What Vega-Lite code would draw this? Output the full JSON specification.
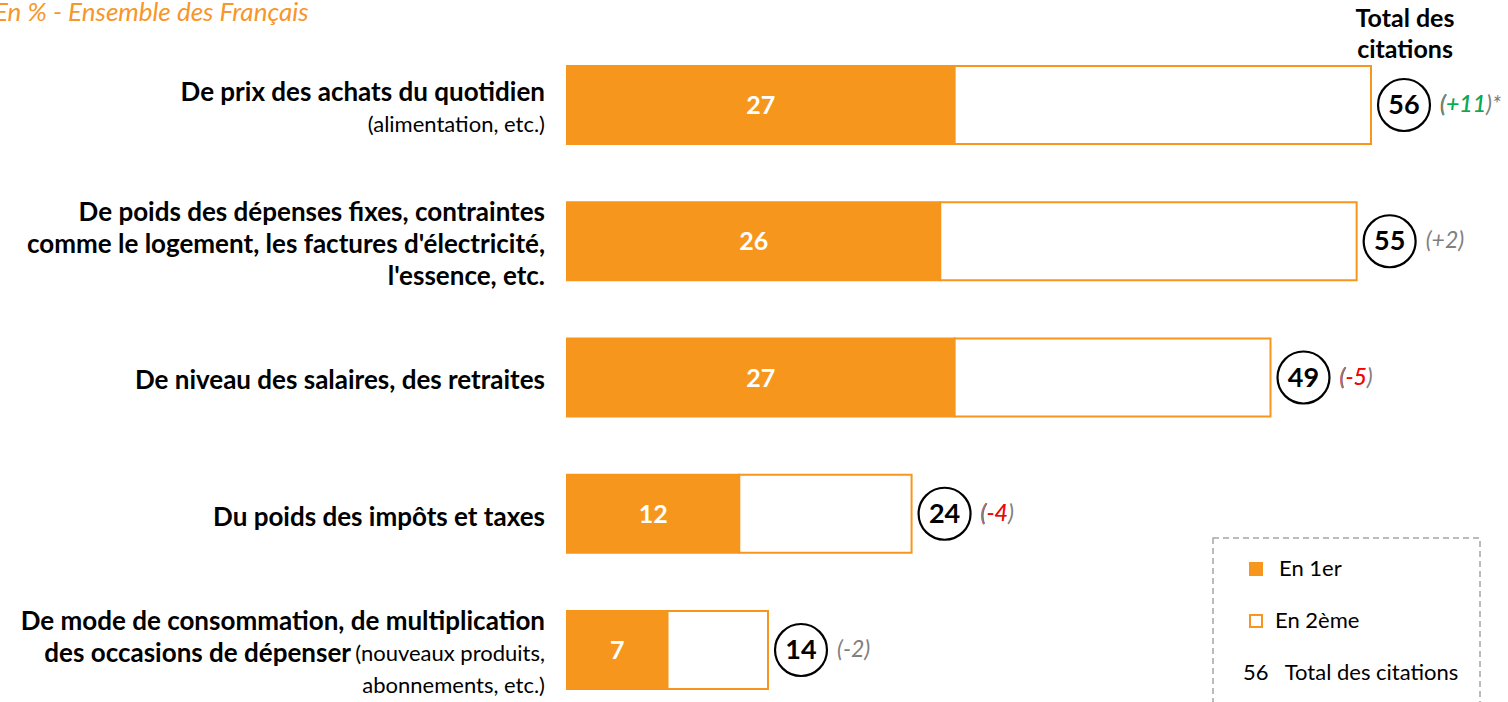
{
  "$schema": "https://vega.github.io/schema/vega-lite/v6.json",
  "width": 1508,
  "height": 672,
  "autosize": {"type": "none"},
  "padding": {"left": 0, "right": 0, "top": 30, "bottom": 0},
  "background": "white",
  "title": {
    "text": "En % - Ensemble des Français",
    "anchor": "start",
    "frame": "group",
    "dx": -6,
    "dy": 19,
    "offset": 0,
    "font": "Lato",
    "fontSize": 26,
    "fontStyle": "italic",
    "fontWeight": "normal",
    "color": "#F7962A"
  },
  "config": {
    "view": {"stroke": null},
    "font": "Lato",
    "legend": {
      "orient": "none",
      "legendX": 1213,
      "legendY": 508,
      "padding": 20,
      "strokeColor": "#A6A6A6",
      "strokeDash": [6, 4],
      "strokeWidth": 1.5,
      "symbolType": "square",
      "symbolSize": 144,
      "symbolStrokeWidth": 2,
      "symbolStrokeColor": "#F7961D",
      "symbolOffset": 12,
      "labelOffset": 12,
      "labelFont": "Lato",
      "labelFontSize": 22,
      "labelColor": "#000000",
      "labelLimit": 600,
      "rowPadding": 30
    }
  },
  "datasets": {
    "items": [
      {"id": "prix", "En 1er": 27, "En 2ème": 29, "total": 56, "delta": "(+11)*", "deltaPrefix": "(+11", "trend": "hausse"},
      {"id": "depenses", "En 1er": 26, "En 2ème": 29, "total": 55, "delta": "(+2)", "deltaPrefix": "(+2", "trend": "stable"},
      {"id": "salaires", "En 1er": 27, "En 2ème": 22, "total": 49, "delta": "(-5)", "deltaPrefix": "(-5", "trend": "baisse"},
      {"id": "impots", "En 1er": 12, "En 2ème": 12, "total": 24, "delta": "(-4)", "deltaPrefix": "(-4", "trend": "baisse"},
      {"id": "mode", "En 1er": 7, "En 2ème": 7, "total": 14, "delta": "(-2)", "deltaPrefix": "(-2", "trend": "stable"}
    ],
    "lignes": [
      {"id": "prix", "ligne": -0.5, "texte": "De prix des achats du quotidien", "style": "gras"},
      {"id": "prix", "ligne": 0.5, "texte": "(alimentation, etc.)", "style": "normal"},
      {"id": "depenses", "ligne": -1, "texte": "De poids des dépenses fixes, contraintes", "style": "gras"},
      {"id": "depenses", "ligne": 0, "texte": "comme le logement, les factures d'électricité,", "style": "gras"},
      {"id": "depenses", "ligne": 1, "texte": "l'essence, etc.", "style": "gras"},
      {"id": "salaires", "ligne": 0, "texte": "De niveau des salaires, des retraites", "style": "gras"},
      {"id": "impots", "ligne": 0, "texte": "Du poids des impôts et taxes", "style": "gras"},
      {"id": "mode", "ligne": -1, "texte": "De mode de consommation, de multiplication", "style": "gras"},
      {"id": "mode", "ligne": 0, "texte": "des occasions de dépenser", "style": "gras_suivi"},
      {"id": "mode", "ligne": 0, "texte": "(nouveaux produits,", "style": "normal"},
      {"id": "mode", "ligne": 1, "texte": "abonnements, etc.)", "style": "normal"}
    ]
  },
  "data": {"name": "items"},
  "resolve": {"scale": {"x": "independent", "yOffset": "independent"}},
  "encoding": {
    "y": {
      "field": "id",
      "type": "nominal",
      "axis": null,
      "sort": ["prix", "depenses", "salaires", "impots", "mode"],
      "scale": {"range": [36, 659], "paddingInner": 0.4275, "paddingOuter": 0}
    }
  },
  "layer": [
    {
      "transform": [{"fold": ["En 1er", "En 2ème"], "as": ["rang", "valeur"]}],
      "mark": {"type": "bar", "stroke": "#F7961D", "strokeWidth": 2},
      "encoding": {
        "x": {"field": "valeur", "type": "quantitative", "stack": "zero", "axis": null,
              "scale": {"domain": [0, 56], "range": [567, 1371], "nice": false}},
        "fill": {
          "field": "rang", "type": "nominal",
          "scale": {"domain": ["En 1er", "En 2ème", "Total des citations"], "range": ["#F7961D", "#FFFFFF", "transparent"]},
          "legend": {
            "title": null,
            "labelExpr": "datum.value === 'Total des citations' ? '56\u00a0\u00a0 Total des citations\u00a0\u00a0\u00a0\u00a0\u00a0\u00a0\u00a0\u00a0\u00a0\u00a0' : datum.label",
            "values": ["En 1er", "En 2ème", "Total des citations"],
            "encode": {
              "symbols": {"update": {
                "stroke": {"value": "#F7961D"},
                "strokeOpacity": {"signal": "datum.value === 'Total des citations' ? 0 : 1"}
              }},
              "labels": {"update": {
                "dx": {"signal": "datum.value === 'Total des citations' ? -36 : (datum.value === 'En 2ème' ? -4 : 0)"}
              }}
            }
          }
        },
        "order": {"field": "rang", "type": "nominal", "sort": "ascending"}
      }
    },
    {
      "mark": {"type": "text", "color": "#FFFFFF", "fontWeight": "bold", "fontSize": 25, "baseline": "middle", "align": "center", "dy": 1},
      "encoding": {
        "x": {"field": "En 1er", "type": "quantitative", "axis": null,
              "scale": {"domain": [0, 112], "range": [567, 1371], "nice": false}},
        "text": {"field": "En 1er", "type": "quantitative"}
      }
    },
    {
      "mark": {"type": "point", "shape": "circle", "filled": true, "fill": "#FFFFFF", "stroke": "#000000", "strokeWidth": 2.2, "size": 2700, "xOffset": 33, "opacity": 1},
      "encoding": {
        "x": {"field": "total", "type": "quantitative", "axis": null,
              "scale": {"domain": [0, 56], "range": [567, 1371], "nice": false}}
      }
    },
    {
      "mark": {"type": "text", "color": "#000000", "fontWeight": "bold", "fontSize": 27, "baseline": "middle", "align": "center", "dx": 33, "dy": 1},
      "encoding": {
        "x": {"field": "total", "type": "quantitative", "axis": null,
              "scale": {"domain": [0, 56], "range": [567, 1371], "nice": false}},
        "text": {"field": "total", "type": "quantitative"}
      }
    },
    {
      "mark": {"type": "text", "color": "#7F7F7F", "fontStyle": "italic", "fontSize": 23, "baseline": "middle", "align": "left", "dx": 69},
      "encoding": {
        "x": {"field": "total", "type": "quantitative", "axis": null,
              "scale": {"domain": [0, 56], "range": [567, 1371], "nice": false}},
        "text": {"field": "delta", "type": "nominal"}
      }
    },
    {
      "transform": [{"filter": "datum.trend !== 'stable'"}],
      "mark": {"type": "text", "fontStyle": "italic", "fontSize": 23, "baseline": "middle", "align": "left", "dx": 69},
      "encoding": {
        "x": {"field": "total", "type": "quantitative", "axis": null,
              "scale": {"domain": [0, 56], "range": [567, 1371], "nice": false}},
        "text": {"field": "deltaPrefix", "type": "nominal"},
        "color": {"field": "trend", "type": "nominal", "legend": null,
                  "scale": {"domain": ["hausse", "baisse"], "range": ["#00B050", "#FF0000"]}}
      }
    },
    {
      "transform": [{"filter": "datum.trend !== 'stable'"}],
      "mark": {"type": "text", "color": "#7F7F7F", "fontStyle": "italic", "fontSize": 23, "baseline": "middle", "align": "left", "dx": 69},
      "encoding": {
        "x": {"field": "total", "type": "quantitative", "axis": null,
              "scale": {"domain": [0, 56], "range": [567, 1371], "nice": false}},
        "text": {"value": "("}
      }
    },
    {
      "data": {"name": "lignes"},
      "transform": [{"filter": "datum.style === 'gras'"}],
      "mark": {"type": "text", "color": "#000000", "fontWeight": "bold", "fontSize": 26, "baseline": "middle", "align": "right", "dx": -22},
      "encoding": {
        "x": {"datum": 0, "type": "quantitative", "axis": null,
              "scale": {"domain": [0, 56], "range": [567, 1371], "nice": false}},
        "yOffset": {"field": "ligne", "type": "quantitative", "scale": {"domain": [-1, 1], "range": [11, 75]}},
        "text": {"field": "texte", "type": "nominal"}
      }
    },
    {
      "data": {"name": "lignes"},
      "transform": [{"filter": "datum.style === 'normal'"}],
      "mark": {"type": "text", "color": "#000000", "fontWeight": "normal", "fontSize": 22, "baseline": "middle", "align": "right", "dx": -22},
      "encoding": {
        "x": {"datum": 0, "type": "quantitative", "axis": null,
              "scale": {"domain": [0, 56], "range": [567, 1371], "nice": false}},
        "yOffset": {"field": "ligne", "type": "quantitative", "scale": {"domain": [-1, 1], "range": [11, 75]}},
        "text": {"field": "texte", "type": "nominal"}
      }
    },
    {
      "data": {"name": "lignes"},
      "transform": [{"filter": "datum.style === 'gras_suivi'"}],
      "mark": {"type": "text", "color": "#000000", "fontWeight": "bold", "fontSize": 26, "baseline": "middle", "align": "right", "dx": -216},
      "encoding": {
        "x": {"datum": 0, "type": "quantitative", "axis": null,
              "scale": {"domain": [0, 56], "range": [567, 1371], "nice": false}},
        "yOffset": {"field": "ligne", "type": "quantitative", "scale": {"domain": [-1, 1], "range": [11, 75]}},
        "text": {"field": "texte", "type": "nominal"}
      }
    },
    {
      "data": {"values": [{"id": "prix", "total": 56, "header": ["Total des", "citations"]}]},
      "mark": {"type": "text", "color": "#000000", "fontWeight": "bold", "fontSize": 25, "baseline": "middle", "align": "center", "dx": 34, "dy": -86, "lineHeight": 31},
      "encoding": {
        "x": {"field": "total", "type": "quantitative", "axis": null,
              "scale": {"domain": [0, 56], "range": [567, 1371], "nice": false}},
        "text": {"field": "header", "type": "nominal"}
      }
    }
  ]
}
